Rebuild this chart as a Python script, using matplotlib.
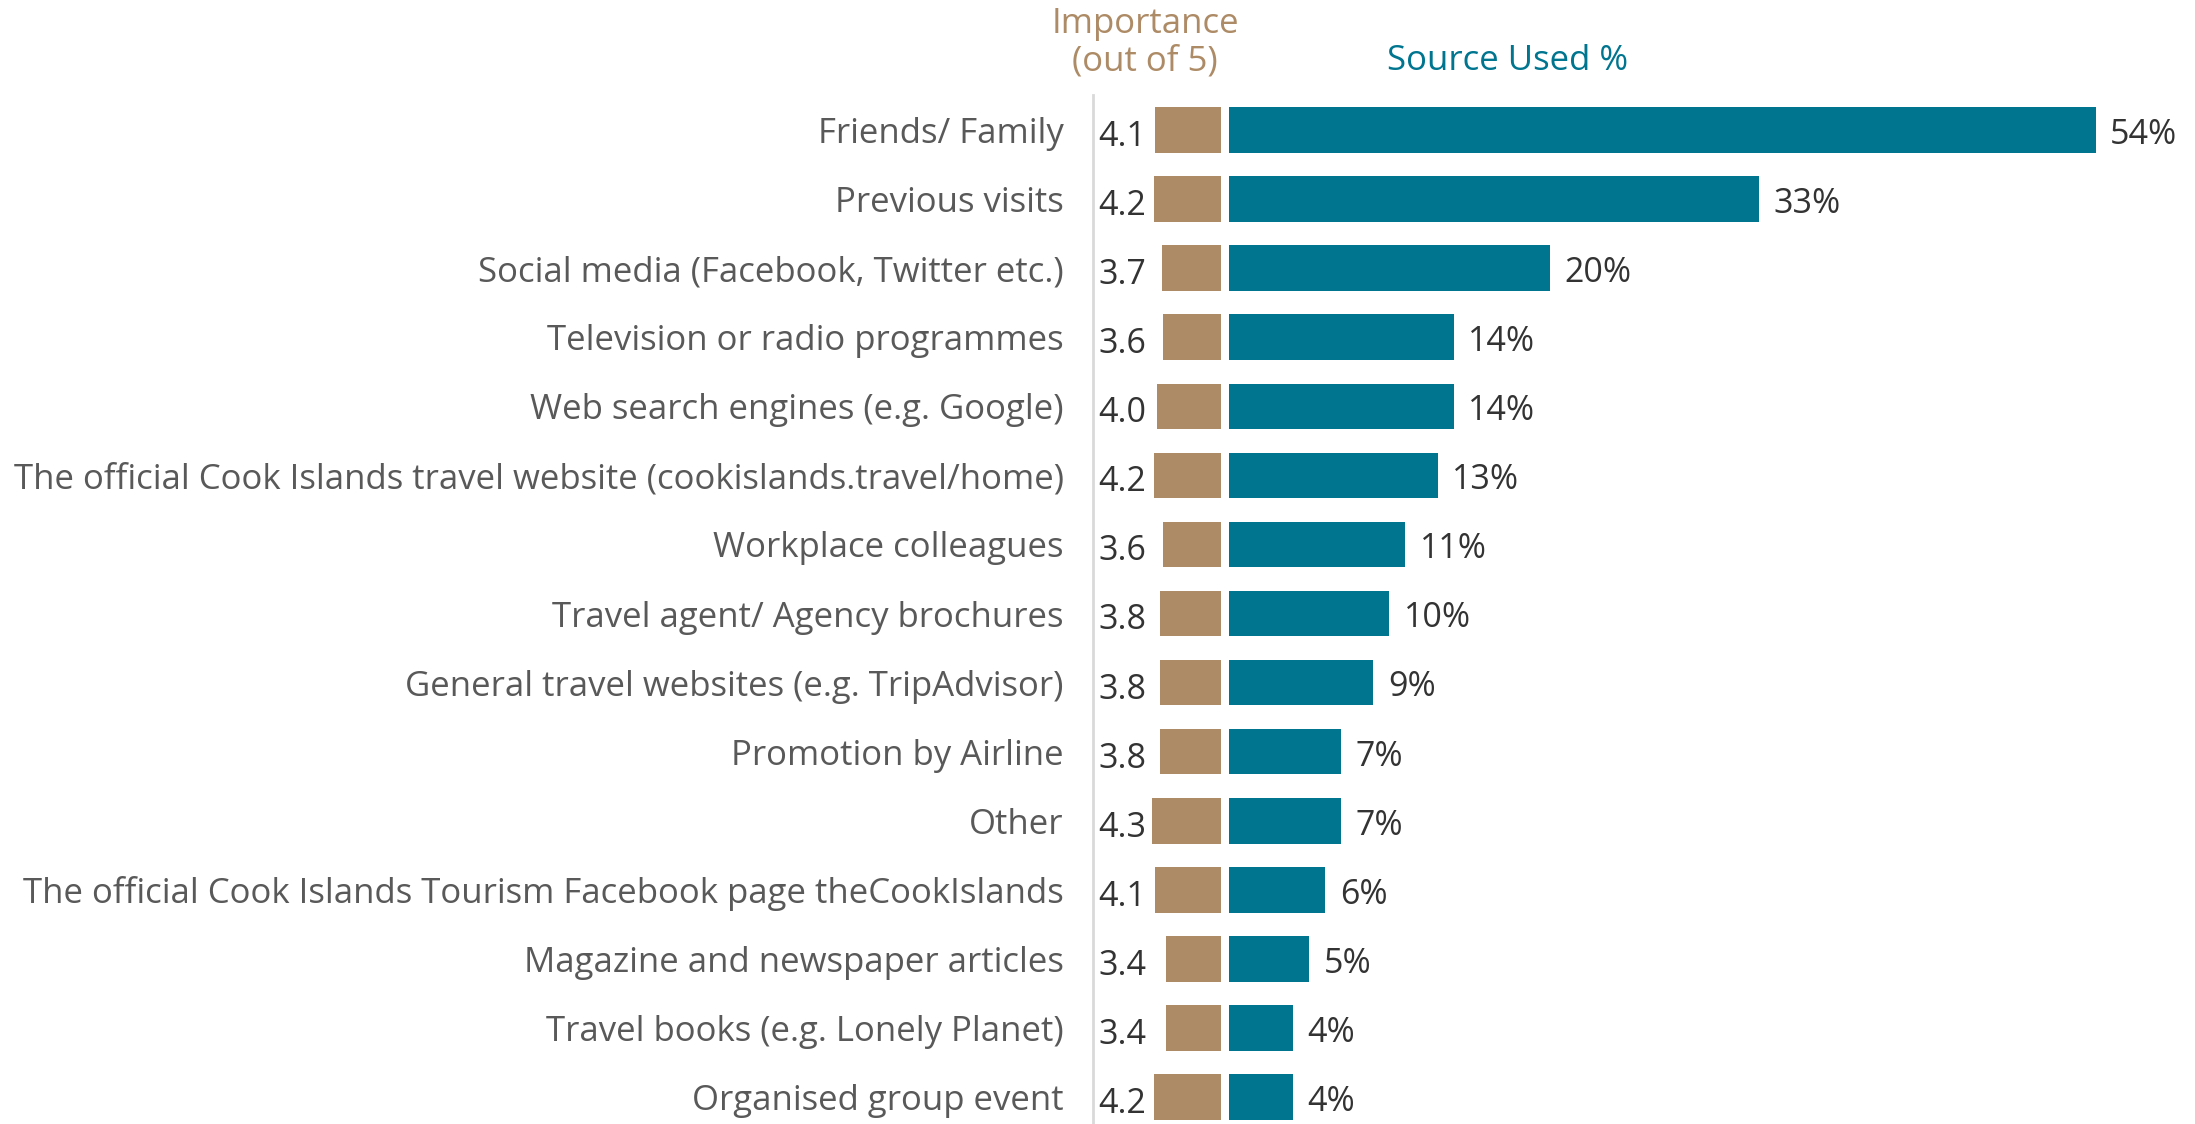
import matplotlib.pyplot as plt

sources = [
    "Friends/ Family",
    "Previous visits",
    "Social media (Facebook, Twitter etc.)",
    "Television or radio programmes",
    "Web search engines (e.g. Google)",
    "The official Cook Islands travel website (cookislands.travel/home)",
    "Workplace colleagues",
    "Travel agent/ Agency brochures",
    "General travel websites (e.g. TripAdvisor)",
    "Promotion by Airline",
    "Other",
    "The official Cook Islands Tourism Facebook page theCookIslands",
    "Magazine and newspaper articles",
    "Travel books (e.g. Lonely Planet)",
    "Organised group event",
]
importance = [4.1, 4.2, 3.7, 3.6, 4.0, 4.2, 3.6, 3.8, 3.8, 3.8, 4.3, 4.1, 3.4, 3.4, 4.2]
used_pct = [54, 33, 20, 14, 14, 13, 11, 10, 9, 7, 7, 6, 5, 4, 4]

tan = '#AD8B66'
teal = '#00758F'
label_grey = '#595959'
value_dark = '#333333'

plt.rcParams['font.family'] = ['Open Sans', 'DejaVu Sans']

W, H = 2195, 1124
fig = plt.figure(figsize=(W / 100, H / 100), dpi=100)
ax = fig.add_axes([1093 / W, 0, (W - 1093) / W, (H - 95.5) / H])

rows = list(range(len(sources)))
gap = 0.5

# importance bars point left, usage bars point right, sharing one scale
ax.barh(rows, importance, left=[-gap - v for v in importance], height=0.66, color=tan)
ax.barh(rows, used_pct, left=0, height=0.66, color=teal)

for i, (imp, pct) in enumerate(zip(importance, used_pct)):
    ax.text(-8.15, i + 0.1, f"{imp:.1f}", ha='left', va='center', fontsize=24.5, color=value_dark)
    ax.text(pct + 0.9, i + 0.07, f"{pct}%", ha='left', va='center', fontsize=24.5, color=value_dark)

ax.set_xlim(-8.47, 60.19)
ax.set_ylim(14.39, -0.5)
ax.set_xticks([])
ax.set_yticks(rows)
ax.set_yticklabels(sources, fontsize=25, color=label_grey)
ax.tick_params(axis='y', length=0, pad=21)

for side in ['top', 'right', 'bottom']:
    ax.spines[side].set_visible(False)
ax.spines['left'].set_color('#d9d9d9')
ax.spines['left'].set_linewidth(2)

fig.text(1145 / W, 1 - 24 / H, "Importance", ha='center', va='center', fontsize=25, color=tan)
fig.text(1145 / W, 1 - 61 / H, "(out of 5)", ha='center', va='center', fontsize=25, color=tan)
fig.text(1508 / W, 1 - 61 / H, "Source Used %", ha='center', va='center',
         fontsize=25, color=teal)

fig.savefig('out.png', dpi=100)
